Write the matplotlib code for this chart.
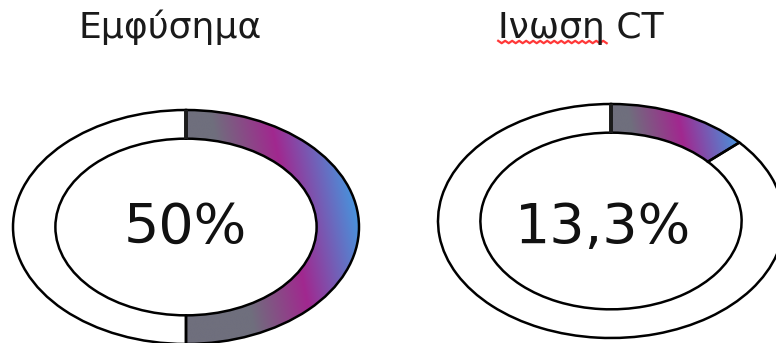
import numpy as np
import matplotlib
matplotlib.use("Agg")
import matplotlib.pyplot as plt
from matplotlib.patches import Wedge
from matplotlib.lines import Line2D
from matplotlib.colors import LinearSegmentedColormap

# Chart content
titles = ["Εμφύσημα", "Ινωση CT"]
values = [50.0, 13.3]            # percent of the ring that is filled
value_labels = ["50%", "13,3%"]

W, H = 776, 343
fig = plt.figure(figsize=(W / 100, H / 100), dpi=100)
fig.patch.set_facecolor("white")

plt.rcParams["font.family"] = ["DejaVu Sans"]

# ring geometry (pixels, measured from the top-left corner)
centers = [(186, 227), (611, 221)]
RX, RY = 173, 117
INNER = 0.755
EDGE_LW = 1.8

seg_cmap = LinearSegmentedColormap.from_list(
    "seg", [(0.0, "#6f6f7d"), (0.27, "#6f6f7d"), (0.61, "#a1288f"), (1.0, "#4893dc")]
)
SLANT = 0.136

title_pos = [(170, 38), (581, 38)]
label_pos = [(185, 243), (603, 243)]

for (cx, cy), val, lab, title, (tx, ty), (lx, ly) in zip(
    centers, values, value_labels, titles, title_pos, label_pos
):
    ax = fig.add_axes([(cx - RX) / W, (H - cy - RY) / H, 2 * RX / W, 2 * RY / H])
    ax.set_xlim(-1, 1)
    ax.set_ylim(-1, 1)
    ax.axis("off")

    theta_end = 90 - 360 * val / 100
    seg = Wedge((0, 0), 1, theta_end, 90, width=1 - INNER, facecolor="none",
                edgecolor="black", lw=EDGE_LW, zorder=3, clip_on=False)
    rest = Wedge((0, 0), 1, 90, theta_end + 360, width=1 - INNER, facecolor="white",
                 edgecolor="black", lw=EDGE_LW, zorder=3, clip_on=False)
    ax.add_patch(rest)
    ax.add_patch(seg)

    # slanted linear gradient across the filled segment
    xs = np.linspace(-1, 1, 700)
    ys = np.linspace(-1, 1, 500)
    X, Y = np.meshgrid(xs, ys)
    ang = np.radians(np.linspace(theta_end, 90, 400))
    tmax = np.max(np.cos(ang) + SLANT * np.sin(ang))
    T = np.clip((X + SLANT * Y) / tmax, 0, 1)
    im = ax.imshow(T, cmap=seg_cmap, vmin=0, vmax=1, origin="lower",
                   extent=[-1, 1, -1, 1], aspect="auto", zorder=2,
                   interpolation="bilinear")
    im.set_clip_path(seg)

    # divider at twelve o'clock
    ax.add_line(Line2D([0, 0], [INNER, 1], color="#1c1c1c", lw=2.8,
                       solid_capstyle="butt", zorder=4, clip_on=False))

    fig.text(lx / W, 1 - ly / H, lab, ha="center", va="baseline",
             fontsize=40, color="#111111")
    fig.text(tx / W, 1 - ty / H, title, ha="center", va="baseline",
             fontsize=26, color="#1a1a1a")

# spell-check squiggle under the first word of the second title
renderer = fig.canvas.get_renderer()
ttl = fig.texts[-1]
bb = ttl.get_window_extent(renderer)
w_word, _, _ = renderer.get_text_width_height_descent(
    "Ινωση", ttl.get_fontproperties(), ismath=False)
x0, x1 = bb.x0, bb.x0 + w_word
y0 = H - 42
step = 3.5
n = int((x1 - x0) / step) + 1
zx = x0 + np.arange(n + 1) * step
zy = y0 + np.where(np.arange(n + 1) % 2 == 0, 1.2, -1.2)
fig.add_artist(Line2D(zx / W, zy / H, color="#ff3838", lw=1.6,
                      transform=fig.transFigure))

fig.savefig("out.png", dpi=100)
